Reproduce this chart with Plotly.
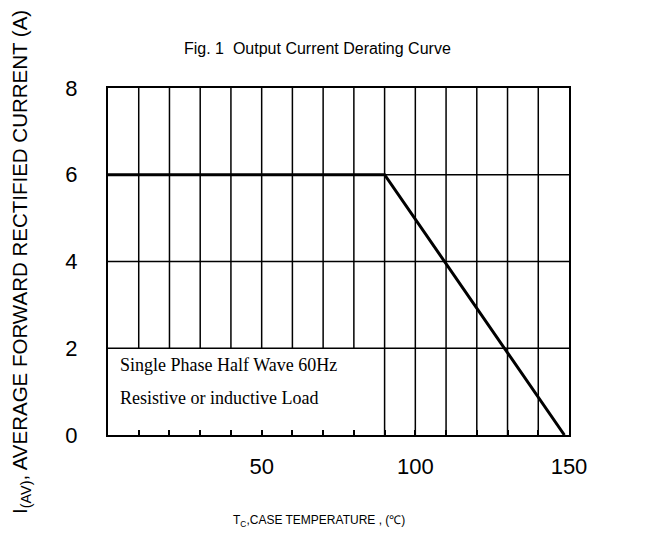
import plotly.graph_objects as go

# Data
temp_c = [0, 90, 148.5]
current_a = [6, 6, 0]
x_ticks = [50, 100, 150]
y_ticks = [0, 2, 4, 6, 8]
grid_x_partial = [10, 20, 30, 40, 50, 60, 70, 80]
grid_x_full = [90, 100, 110, 120, 130, 140]
grid_y = [2, 4, 6]
note_lines = ["Single Phase Half Wave 60Hz", "Resistive or inductive Load"]

fig = go.Figure()
fig.add_trace(go.Scatter(x=temp_c, y=current_a, mode="lines",
                         line=dict(color="black", width=3), showlegend=False,
                         hoverinfo="skip"))

shapes = []
for gx in grid_x_partial:
    shapes.append(dict(type="line", xref="x", yref="y", x0=gx, x1=gx, y0=2, y1=8,
                       line=dict(color="black", width=1.5), layer="below"))
for gx in grid_x_full:
    shapes.append(dict(type="line", xref="x", yref="y", x0=gx, x1=gx, y0=0, y1=8,
                       line=dict(color="black", width=1.5), layer="below"))
for gy in grid_y:
    shapes.append(dict(type="line", xref="x", yref="y", x0=0, x1=150, y0=gy, y1=gy,
                       line=dict(color="black", width=1.5), layer="below"))

annotations = [
    dict(text="Fig. 1  Output Current Derating Curve", xref="paper", yref="paper",
         x=0.455, y=1.115, showarrow=False, xanchor="center", yanchor="middle",
         font=dict(family="Liberation Sans, Arial", size=16, color="black")),
    dict(text="I<sub>(AV)</sub>, AVERAGE FORWARD RECTIFIED CURRENT (A)", xref="paper", yref="paper",
         x=-0.19, y=0.5, showarrow=False, textangle=-90, xanchor="center", yanchor="middle",
         font=dict(family="Liberation Sans, Arial", size=20.5, color="black")),
    dict(text="T<sub>C</sub>,CASE TEMPERATURE , (℃)", xref="paper", yref="paper",
         x=0.458, y=-0.248, showarrow=False, xanchor="center", yanchor="middle",
         font=dict(family="Liberation Sans, Arial", size=12, color="black")),
    dict(text=note_lines[0], xref="x", yref="y", x=3.2, y=1.62, showarrow=False,
         xanchor="left", yanchor="middle",
         font=dict(family="Liberation Serif, Times New Roman", size=18, color="black")),
    dict(text=note_lines[1], xref="x", yref="y", x=3.2, y=0.86, showarrow=False,
         xanchor="left", yanchor="middle",
         font=dict(family="Liberation Serif, Times New Roman", size=18, color="black")),
]

fig.update_layout(
    width=658, height=533,
    margin=dict(l=100, r=97, t=80, b=106),
    paper_bgcolor="white", plot_bgcolor="white",
    shapes=shapes, annotations=annotations,
    font=dict(family="Liberation Sans, Arial", color="black"),
)
fig.update_xaxes(range=[0, 150], tickvals=x_ticks, ticktext=[str(v) for v in x_ticks],
                 showgrid=False, zeroline=False, showline=True, linecolor="black",
                 linewidth=2, mirror=True, ticks="inside", ticklen=5, tickwidth=1.5,
                 tickcolor="black", tickfont=dict(size=22), ticklabelstandoff=11,
                 minor=dict(ticks="inside", dtick=10, ticklen=5, tickwidth=1.5,
                            tickcolor="black", showgrid=False))
fig.update_yaxes(range=[0, 8], tickvals=y_ticks, ticktext=[str(v) for v in y_ticks],
                 showgrid=False, zeroline=False, showline=True, linecolor="black",
                 linewidth=2, mirror=True, ticks="", tickfont=dict(size=22),
                 ticklabelstandoff=24)

fig.write_html("out.html")
